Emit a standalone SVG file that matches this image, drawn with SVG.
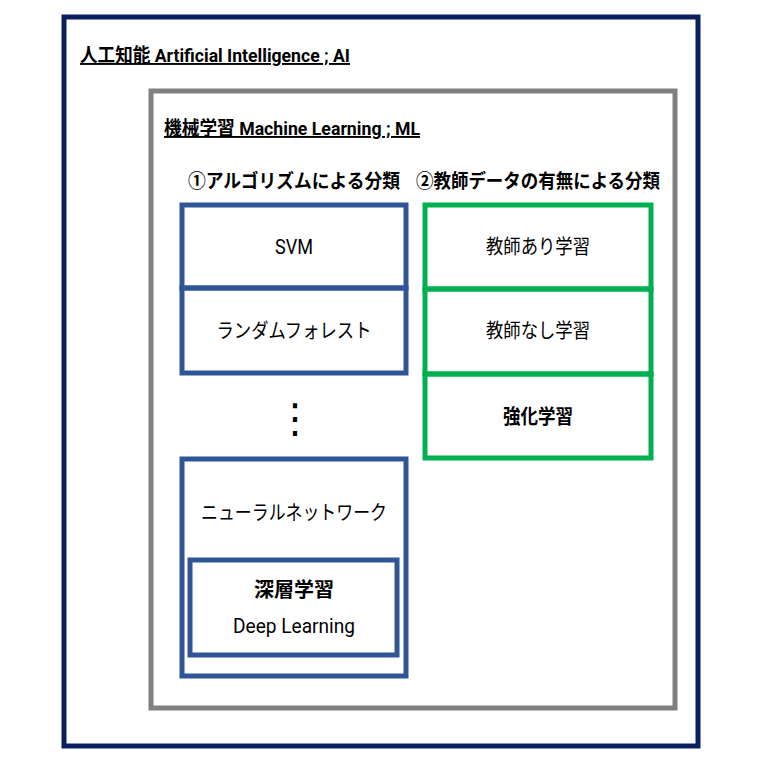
<svg xmlns="http://www.w3.org/2000/svg" width="761" height="761" viewBox="0 0 761 761">
<style>
text{font-family:"Roboto","Noto Sans CJK JP",sans-serif;fill:#000}
.t{font-size:19px;font-weight:bold;text-decoration:underline}
.h{font-size:19px;font-weight:bold}
.n{font-size:20px;text-anchor:middle}
.b{font-size:20px;text-anchor:middle;font-weight:bold}
.bl{fill:none;stroke:#2f5597;stroke-width:5}
.gr{fill:none;stroke:#00b050;stroke-width:5}
</style>
<rect width="761" height="761" fill="#fff"/>
<g id="ai"><rect x="64" y="17" width="634" height="729" fill="none" stroke="#0b1f5c" stroke-width="5"/>
<text class="t" x="80" y="62" textLength="270" lengthAdjust="spacingAndGlyphs">人工知能 Artificial Intelligence ; AI</text></g>
<g id="ml"><rect x="151" y="91" width="524" height="617" fill="none" stroke="#808080" stroke-width="5"/>
<text class="t" x="164" y="135" textLength="256" lengthAdjust="spacingAndGlyphs">機械学習 Machine Learning ; ML</text></g>
<g id="h1"><text class="h" x="188" y="188" textLength="212" lengthAdjust="spacingAndGlyphs">①アルゴリズムによる分類</text></g>
<g id="h2"><text class="h" x="416" y="188" textLength="244" lengthAdjust="spacingAndGlyphs">②教師データの有無による分類</text></g>
<g id="svm"><rect class="bl" x="182" y="205" width="224" height="83"/><text class="n" x="294" y="254" textLength="38" lengthAdjust="spacingAndGlyphs">SVM</text></g>
<g id="rf"><rect class="bl" x="182" y="288" width="224" height="85"/><text class="n" x="294" y="338" textLength="155" lengthAdjust="spacingAndGlyphs">ランダムフォレスト</text></g>
<g id="dots"><text x="295" y="432" style="font-family:'DejaVu Sans',sans-serif;font-size:40px;text-anchor:middle">⋮</text></g>
<g id="nn"><rect class="bl" x="182" y="459" width="224" height="217"/><text class="n" x="294" y="520" textLength="186" lengthAdjust="spacingAndGlyphs">ニューラルネットワーク</text></g>
<g id="dl"><rect class="bl" x="190" y="560" width="207" height="95"/><text class="b" x="294" y="597">深層学習</text><text class="n" x="294" y="633" font-size="22" textLength="122" lengthAdjust="spacingAndGlyphs">Deep Learning</text></g>
<g id="sup"><rect class="gr" x="425" y="205" width="226" height="84"/><text class="n" x="538" y="254" textLength="104" lengthAdjust="spacingAndGlyphs">教師あり学習</text></g>
<g id="unsup"><rect class="gr" x="425" y="289" width="226" height="85"/><text class="n" x="538" y="338" textLength="104" lengthAdjust="spacingAndGlyphs">教師なし学習</text></g>
<g id="rl"><rect class="gr" x="425" y="374" width="226" height="84"/><text class="b" x="538" y="424" textLength="70" lengthAdjust="spacingAndGlyphs">強化学習</text></g>
<g id="connectors"/>
</svg>
